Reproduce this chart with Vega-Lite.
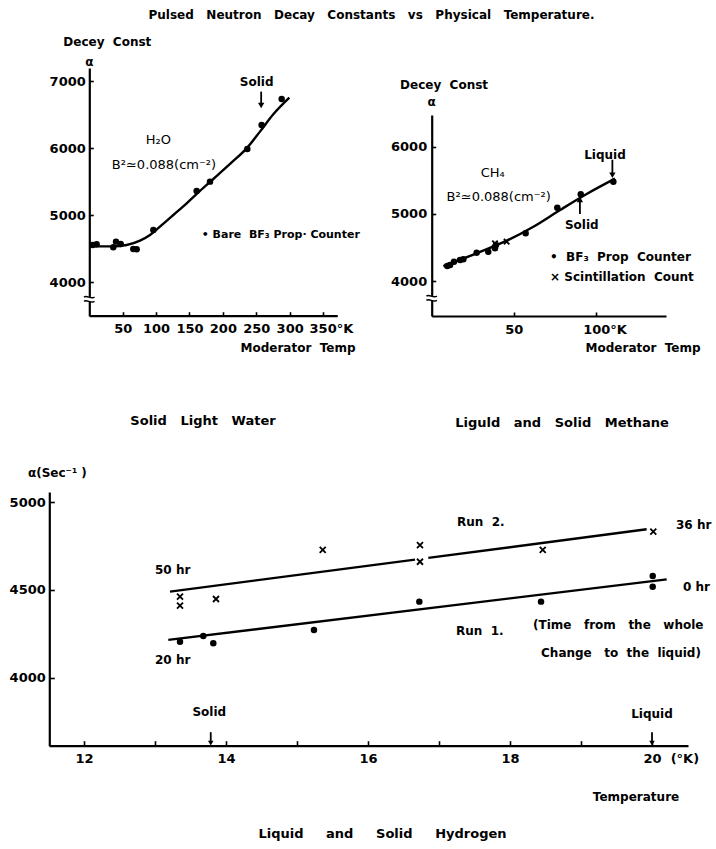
{
  "$schema": "https://vega.github.io/schema/vega-lite/v6.json",
  "width": 716,
  "height": 849,
  "autosize": {"type": "none"},
  "padding": 0,
  "background": "white",
  "config": {
    "view": {"stroke": null},
    "font": "DejaVu Sans",
    "axis": {
      "grid": false,
      "domainColor": "black",
      "domainWidth": 2.2,
      "tickColor": "black",
      "tickWidth": 1.6,
      "labelColor": "black",
      "labelFont": "DejaVu Sans",
      "labelFontWeight": "bold",
      "labelFontSize": 13,
      "labelFlush": false,
      "labelOverlap": false
    },
    "text": {"font": "DejaVu Sans", "color": "black", "baseline": "middle"},
    "point": {"opacity": 1},
    "circle": {"opacity": 1}
  },
  "datasets": {
    "h2o_pts": [
      {"t": 5.0, "a": 4558}, {"t": 11.0, "a": 4568}, {"t": 35.9, "a": 4523}, {"t": 40.0, "a": 4608},
      {"t": 47.0, "a": 4573}, {"t": 65.9, "a": 4498}, {"t": 70.9, "a": 4493}, {"t": 95.9, "a": 4782},
      {"t": 160.7, "a": 5363}, {"t": 180.7, "a": 5502}, {"t": 236.6, "a": 5988}, {"t": 258.0, "a": 6346},
      {"t": 288.0, "a": 6734}
    ],
    "h2o_fit": [
      {"t": 0, "a": 4543}, {"t": 16.0, "a": 4538}, {"t": 36.0, "a": 4538}, {"t": 55.9, "a": 4558},
      {"t": 75.9, "a": 4623}, {"t": 90.9, "a": 4707}, {"t": 105.8, "a": 4831}, {"t": 125.8, "a": 5005},
      {"t": 145.8, "a": 5179}, {"t": 165.7, "a": 5363}, {"t": 185.7, "a": 5541}, {"t": 215.6, "a": 5810},
      {"t": 235.6, "a": 5998}, {"t": 255.5, "a": 6247}, {"t": 275.5, "a": 6505}, {"t": 299.5, "a": 6753}
    ],
    "h2o_arrow": [{"t": 257.3, "a": 6843, "a2": 6650}],
    "h2o_head": [{"t": 257.3, "a": 6635, "dir": "down"}],
    "h2o_break": [{"t": 0, "a": 3749}],
    "h2o_note": [
      {"t": 103.3, "a": 6123, "label": "H₂O"},
      {"t": 111.8, "a": 5750, "label": "B²≃0.088(cm⁻²)"}
    ],
    "h2o_label_c": [
      {"t": 422.5, "a": 7985, "label": "Pulsed\u00a0\u00a0\u00a0Neutron\u00a0\u00a0\u00a0Decay\u00a0\u00a0\u00a0Constants\u00a0\u00a0\u00a0vs\u00a0\u00a0\u00a0Physical\u00a0\u00a0\u00a0Temperature."},
      {"t": 250.5, "a": 6992, "label": "Solid"},
      {"t": 0, "a": 7290, "label": "α"},
      {"t": 312.5, "a": 3019, "label": "Moderator\u00a0 Temp"}
    ],
    "h2o_caption": [
      {"t": 170.2, "a": 1935, "label": "Solid\u00a0\u00a0\u00a0Light\u00a0\u00a0\u00a0Water"}
    ],
    "h2o_label_l": [
      {"t": -38.9, "a": 7588, "label": "Decey\u00a0 Const"}
    ],
    "h2o_key": [
      {"t": 168.3, "a": 4707, "label": "•\u00a0Bare\u00a0\u00a0BF₃\u00a0Prop·\u00a0Counter"}
    ],
    "ch4_pts": [
      {"t": 9.5, "a": 4227}, {"t": 11.2, "a": 4242}, {"t": 13.6, "a": 4291}, {"t": 17.3, "a": 4316},
      {"t": 19.3, "a": 4326}, {"t": 27.4, "a": 4425}, {"t": 34.5, "a": 4440}, {"t": 38.6, "a": 4490},
      {"t": 39.2, "a": 4539}, {"t": 57.3, "a": 4713}, {"t": 76.6, "a": 5094}, {"t": 90.9, "a": 5293},
      {"t": 110.8, "a": 5480}
    ],
    "ch4_x": [{"t": 45.7, "a": 4588}, {"t": 38.6, "a": 4564}],
    "ch4_fit": [
      {"t": 7.1, "a": 4227}, {"t": 27.4, "a": 4416}, {"t": 45.7, "a": 4603}, {"t": 62.0, "a": 4811},
      {"t": 78.3, "a": 5059}, {"t": 94.5, "a": 5297}, {"t": 111.8, "a": 5525}
    ],
    "ch4_arrow": [{"t": 110.2, "a": 5806, "a2": 5590}, {"t": 90.4, "a": 4999, "a2": 5200}],
    "ch4_head": [{"t": 110.2, "a": 5575, "dir": "down"}, {"t": 90.4, "a": 5215, "dir": "up"}],
    "ch4_break": [{"t": 0, "a": 3747}],
    "ch4_note": [
      {"t": 37.2, "a": 5605, "label": "CH₄"},
      {"t": 40.9, "a": 5257, "label": "B²≃0.088(cm⁻²)"}
    ],
    "ch4_label_c": [
      {"t": 0, "a": 6669, "label": "α"},
      {"t": 105.7, "a": 5876, "label": "Liquid"},
      {"t": 91.5, "a": 4836, "label": "Solid"},
      {"t": 128.9, "a": 3004, "label": "Moderator\u00a0 Temp"}
    ],
    "ch4_caption": [
      {"t": 79.5, "a": 1894, "label": "Liguld\u00a0\u00a0\u00a0and\u00a0\u00a0\u00a0Solid\u00a0\u00a0\u00a0Methane"}
    ],
    "ch4_label_l": [
      {"t": -19.3, "a": 6917, "label": "Decey\u00a0 Const"},
      {"t": 72.2, "a": 4365, "label": "•\u00a0 BF₃\u00a0 Prop\u00a0 Counter"},
      {"t": 72.2, "a": 4059, "label": "× Scintillation\u00a0 Count"}
    ],
    "h2_run1": [
      {"t": 13.352, "a": 4205}, {"t": 13.68, "a": 4237}, {"t": 13.821, "a": 4196}, {"t": 15.239, "a": 4272},
      {"t": 16.723, "a": 4433}, {"t": 18.437, "a": 4433}, {"t": 20.01, "a": 4579}, {"t": 20.01, "a": 4518}
    ],
    "h2_run2": [
      {"t": 13.352, "a": 4461}, {"t": 13.352, "a": 4410}, {"t": 13.859, "a": 4448}, {"t": 15.362, "a": 4727},
      {"t": 16.732, "a": 4755}, {"t": 16.732, "a": 4660}, {"t": 18.461, "a": 4727}, {"t": 20.018, "a": 4831}
    ],
    "h2_fit": [
      {"t": 13.211, "a": 4490, "seg": "run2a"}, {"t": 16.662, "a": 4672, "seg": "run2a"},
      {"t": 16.849, "a": 4682, "seg": "run2b"}, {"t": 19.925, "a": 4845, "seg": "run2b"},
      {"t": 13.187, "a": 4215, "seg": "run1"}, {"t": 20.207, "a": 4560, "seg": "run1"}
    ],
    "h2_arrow": [{"t": 13.785, "a": 3690, "a2": 3640}, {"t": 20.0, "a": 3690, "a2": 3640}],
    "h2_head": [{"t": 13.785, "a": 3628, "dir": "down"}, {"t": 20.0, "a": 3628, "dir": "down"}],
    "h2_label_c": [
      {"t": 13.765, "a": 3803, "label": "Solid"},
      {"t": 20.0, "a": 3793, "label": "Liquid"},
      {"t": 19.775, "a": 3321, "label": "Temperature"}
    ],
    "h2_caption": [
      {"t": 16.204, "a": 3110, "label": "Liquid\u00a0\u00a0\u00a0\u00a0\u00a0and\u00a0\u00a0\u00a0\u00a0\u00a0Solid\u00a0\u00a0\u00a0\u00a0\u00a0Hydrogen"}
    ],
    "h2_label_l": [
      {"t": 11.211, "a": 5163, "label": "α(Sec⁻¹\u00a0)"},
      {"t": 13.0, "a": 4613, "label": "50 hr"},
      {"t": 13.0, "a": 4101, "label": "20 hr"},
      {"t": 17.254, "a": 4886, "label": "Run\u00a0 2."},
      {"t": 20.338, "a": 4869, "label": "36 hr"},
      {"t": 20.437, "a": 4516, "label": "0 hr"},
      {"t": 17.239, "a": 4266, "label": "Run\u00a0 1."},
      {"t": 18.324, "a": 4300, "label": "(Time\u00a0\u00a0 from\u00a0\u00a0 the\u00a0\u00a0 whole"},
      {"t": 18.437, "a": 4141, "label": "Change\u00a0\u00a0 to\u00a0 the\u00a0 liquid)"}
    ]
  },
  "layer": [
    {
      "encoding": {
        "x": {
          "field": "t", "type": "quantitative",
          "scale": {"domain": [0, 371.3], "range": [89.3, 337.3], "nice": false, "zero": false},
          "axis": {
            "orient": "bottom", "offset": -533.3, "title": null,
            "values": [50, 100, 150, 200, 250, 300, 350],
            "tickSize": -4, "labelPadding": 11,
            "labelExpr": "datum.value == 350 ? '350°K' : datum.label",
            "labelAlign": {"condition": {"test": "datum.value == 350", "value": "left"}, "value": "center"},
            "labelOffset": {"condition": {"test": "datum.value == 350", "value": -14}, "value": 0}
          }
        },
        "y": {
          "field": "a", "type": "quantitative",
          "scale": {"domain": [3500, 7195], "range": [316, 68], "nice": false, "zero": false},
          "axis": {
            "orient": "left", "offset": -89.3, "title": null,
            "values": [4000, 5000, 6000, 7000], "format": "d",
            "tickSize": -4, "labelPadding": 8
          }
        }
      },
      "layer": [
        {"data": {"name": "h2o_fit"}, "mark": {"type": "line", "interpolate": "monotone", "strokeWidth": 2.4, "color": "black"}},
        {"data": {"name": "h2o_pts"}, "mark": {"type": "circle", "size": 42, "color": "black"}},
        {"data": {"name": "h2o_arrow"}, "mark": {"type": "rule", "strokeWidth": 1.8, "color": "black"}, "encoding": {"y2": {"field": "a2"}}},
        {"data": {"name": "h2o_head"}, "mark": {"type": "point", "shape": "triangle-down", "filled": true, "size": 40, "color": "black"}},
        {"data": {"name": "h2o_break"}, "mark": {"type": "point", "shape": "M-1,-0.4L1,-0.4L1,0.4L-1,0.4Z", "filled": true, "strokeWidth": 0, "size": 110, "color": "white"}},
        {"data": {"name": "h2o_break"}, "mark": {"type": "point", "shape": "M-1,-0.4C-0.5,-0.9 0.3,0.1 1,-0.4M-1,0.4C-0.5,-0.1 0.3,0.9 1,0.4", "filled": false, "strokeWidth": 1.5, "size": 110, "color": "black"}},
        {"data": {"name": "h2o_note"}, "mark": {"type": "text", "fontSize": 13, "fontWeight": "normal"}, "encoding": {"text": {"field": "label"}}},
        {"data": {"name": "h2o_label_c"}, "mark": {"type": "text", "fontSize": 12, "fontWeight": "bold"}, "encoding": {"text": {"field": "label"}}},
        {"data": {"name": "h2o_caption"}, "mark": {"type": "text", "fontSize": 13, "fontWeight": "bold"}, "encoding": {"text": {"field": "label"}}},
        {"data": {"name": "h2o_label_l"}, "mark": {"type": "text", "align": "left", "fontSize": 12, "fontWeight": "bold"}, "encoding": {"text": {"field": "label"}}},
        {"data": {"name": "h2o_key"}, "mark": {"type": "text", "align": "left", "fontSize": 11, "fontWeight": "bold"}, "encoding": {"text": {"field": "label"}}}
      ]
    },
    {
      "encoding": {
        "x": {
          "field": "t", "type": "quantitative",
          "scale": {"domain": [0, 142.9], "range": [431.7, 666], "nice": false, "zero": false},
          "axis": {
            "orient": "bottom", "offset": -533, "title": null,
            "values": [50, 100],
            "tickSize": -4, "labelPadding": 11,
            "labelExpr": "datum.value == 100 ? '100°K' : datum.label",
            "labelAlign": {"condition": {"test": "datum.value == 100", "value": "left"}, "value": "center"},
            "labelOffset": {"condition": {"test": "datum.value == 100", "value": -13}, "value": 0}
          }
        },
        "y": {
          "field": "a", "type": "quantitative",
          "scale": {"domain": [3484, 6471], "range": [316, 115], "nice": false, "zero": false},
          "axis": {
            "orient": "left", "offset": -431.7, "title": null,
            "values": [4000, 5000, 6000], "format": "d",
            "tickSize": -4, "labelPadding": 9
          }
        }
      },
      "layer": [
        {"data": {"name": "ch4_fit"}, "mark": {"type": "line", "interpolate": "monotone", "strokeWidth": 2.4, "color": "black"}},
        {"data": {"name": "ch4_pts"}, "mark": {"type": "circle", "size": 42, "color": "black"}},
        {"data": {"name": "ch4_x"}, "mark": {"type": "point", "shape": "M-1,-1L1,1M-1,1L1,-1", "filled": false, "strokeWidth": 1.8, "size": 30, "color": "black"}},
        {"data": {"name": "ch4_arrow"}, "mark": {"type": "rule", "strokeWidth": 1.8, "color": "black"}, "encoding": {"y2": {"field": "a2"}}},
        {
          "data": {"name": "ch4_head"},
          "mark": {"type": "point", "filled": true, "size": 40, "color": "black"},
          "encoding": {"shape": {"field": "dir", "type": "nominal", "scale": {"domain": ["down", "up"], "range": ["triangle-down", "triangle-up"]}, "legend": null}}
        },
        {"data": {"name": "ch4_break"}, "mark": {"type": "point", "shape": "M-1,-0.4L1,-0.4L1,0.4L-1,0.4Z", "filled": true, "strokeWidth": 0, "size": 110, "color": "white"}},
        {"data": {"name": "ch4_break"}, "mark": {"type": "point", "shape": "M-1,-0.4C-0.5,-0.9 0.3,0.1 1,-0.4M-1,0.4C-0.5,-0.1 0.3,0.9 1,0.4", "filled": false, "strokeWidth": 1.5, "size": 110, "color": "black"}},
        {"data": {"name": "ch4_note"}, "mark": {"type": "text", "fontSize": 13, "fontWeight": "normal"}, "encoding": {"text": {"field": "label"}}},
        {"data": {"name": "ch4_label_c"}, "mark": {"type": "text", "fontSize": 12, "fontWeight": "bold"}, "encoding": {"text": {"field": "label"}}},
        {"data": {"name": "ch4_caption"}, "mark": {"type": "text", "fontSize": 13, "fontWeight": "bold"}, "encoding": {"text": {"field": "label"}}},
        {"data": {"name": "ch4_label_l"}, "mark": {"type": "text", "align": "left", "fontSize": 12, "fontWeight": "bold"}, "encoding": {"text": {"field": "label"}}}
      ]
    },
    {
      "encoding": {
        "x": {
          "field": "t", "type": "quantitative",
          "scale": {"domain": [11.507, 20.507], "range": [49, 688], "nice": false, "zero": false},
          "axis": {
            "orient": "bottom", "offset": -103.3, "title": null,
            "values": [12, 13, 14, 15, 16, 17, 18, 19, 20],
            "tickSize": -5, "labelPadding": 11.5,
            "labelExpr": "datum.value % 2 == 1 ? '' : (datum.value == 20 ? '20\u00a0\u00a0(°K)' : datum.label)",
            "labelAlign": {"condition": {"test": "datum.value == 20", "value": "left"}, "value": "center"},
            "labelOffset": {"condition": {"test": "datum.value == 20", "value": -9}, "value": 0}
          }
        },
        "y": {
          "field": "a", "type": "quantitative",
          "scale": {"domain": [3613, 5057], "range": [745.7, 492], "nice": false, "zero": false},
          "axis": {
            "orient": "left", "offset": -49.3, "title": null,
            "values": [4000, 4500, 5000], "format": "d",
            "tickSize": -5, "labelPadding": 9
          }
        }
      },
      "layer": [
        {"data": {"name": "h2_fit"}, "mark": {"type": "line", "strokeWidth": 2.4, "color": "black"}, "encoding": {"detail": {"field": "seg", "type": "nominal"}}},
        {"data": {"name": "h2_run1"}, "mark": {"type": "circle", "size": 42, "color": "black"}},
        {"data": {"name": "h2_run2"}, "mark": {"type": "point", "shape": "M-1,-1L1,1M-1,1L1,-1", "filled": false, "strokeWidth": 1.8, "size": 36, "color": "black"}},
        {"data": {"name": "h2_arrow"}, "mark": {"type": "rule", "strokeWidth": 1.8, "color": "black"}, "encoding": {"y2": {"field": "a2"}}},
        {"data": {"name": "h2_head"}, "mark": {"type": "point", "shape": "triangle-down", "filled": true, "size": 30, "color": "black"}},
        {"data": {"name": "h2_label_c"}, "mark": {"type": "text", "fontSize": 12, "fontWeight": "bold"}, "encoding": {"text": {"field": "label"}}},
        {"data": {"name": "h2_caption"}, "mark": {"type": "text", "fontSize": 13, "fontWeight": "bold"}, "encoding": {"text": {"field": "label"}}},
        {"data": {"name": "h2_label_l"}, "mark": {"type": "text", "align": "left", "fontSize": 12, "fontWeight": "bold"}, "encoding": {"text": {"field": "label"}}}
      ]
    }
  ],
  "resolve": {
    "scale": {"x": "independent", "y": "independent", "shape": "independent"},
    "axis": {"x": "independent", "y": "independent"}
  }
}
